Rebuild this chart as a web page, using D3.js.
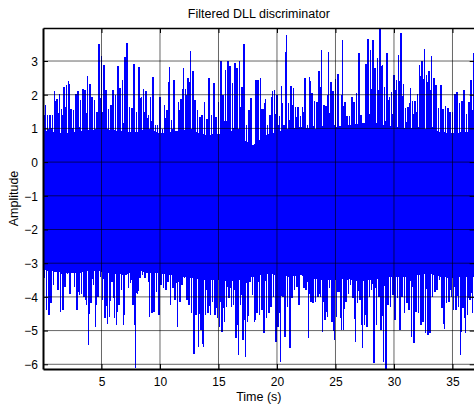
<!DOCTYPE html>
<html>
<head>
<meta charset="utf-8">
<script src="https://cdn.jsdelivr.net/npm/d3@7/dist/d3.min.js"></script>
<style>
  html, body { margin: 0; padding: 0; background: #fff; }
  svg { display: block; }
  text { font-family: "Liberation Sans", Arial, Helvetica, sans-serif; fill: #000; }
</style>
</head>
<body>
<svg id="chart" width="474" height="407"></svg>
<script>
// Filtered DLL discriminator output.
// Per 0.2 s slot: the highest and the lowest excursion of the signal.
const slotSeconds = 0.2;

const upperPeaks = [
  1.84, 1.69, 1.39, 1.41, 1.41, 2.11, 1.87, 2.01, 1.57, 2.24,
  2.29, 2.41, 1.59, 1.54, 2.01, 2.11, 1.84, 2.16, 2.14, 2.57,
  2.31, 1.94, 1.84, 1.49, 3.51, 3.14, 2.89, 2.14, 1.59, 1.69,
  2.14, 1.99, 2.84, 2.19, 2.44, 3.11, 3.54, 1.64, 1.62, 2.91,
  1.49, 2.81, 1.94, 2.17, 2.11, 1.39, 1.94, 2.54, 1.11, 1.09,
  1.92, 0.99, 1.69, 1.54, 2.81, 1.24, 2.44, 0.60, 1.77, 1.87,
  2.79, 2.16, 2.49, 3.29, 2.71, 1.84, 1.54, 1.34, 1.39, 1.79,
  1.29, 2.49, 1.39, 2.34, 1.34, 1.79, 2.99, 1.99, 2.74, 2.99,
  2.84, 2.34, 2.94, 2.79, 2.99, 2.24, 3.51, 1.09, 1.54, 1.89,
  0.44, 2.44,
  2.44, 2.49, 1.59, 1.87, 1.11, 1.41, 2.11, 2.14, 1.99, 1.37,
  2.26, 1.09, 3.77, 1.74, 2.27, 2.21, 1.64, 1.64, 1.37, 1.64,
  2.49, 1.09, 2.54, 2.04, 1.81, 1.79, 2.69, 3.34, 1.69, 1.67,
  3.27, 2.39, 2.11, 2.47, 2.61, 1.02, 3.62, 1.77, 1.37, 1.37,
  1.94, 1.77, 2.04, 3.24, 1.41, 1.09, 2.91, 3.64, 3.34, 3.61,
  2.79, 3.09, 3.98, 2.87, 2.24, 3.24, 1.94, 2.09, 2.59, 2.44,
  3.19, 3.84, 2.31, 1.61, 1.64, 2.21, 1.81, 1.81, 2.01, 2.89,
  2.99, 3.37, 2.59, 2.69, 3.14, 2.51, 2.29, 1.61, 2.29, 1.59,
  1.67, 1.61, 1.49, 1.49, 2.01, 2.07, 1.74, 1.81, 2.14, 1.44,
  1.77, 2.44, 3.24
];

const lowerPeaks = [
  -3.45, -4.39, -4.54, -4.19, -3.65, -3.23, -3.80, -4.44, -4.39, -3.70,
  -3.33, -3.90, -2.81, -3.70, -4.39, -3.93, -3.90, -4.00, -4.24, -5.43,
  -4.19, -3.65, -4.89, -4.00, -3.40, -4.09, -4.64, -4.79, -4.59, -3.55,
  -4.64, -4.84, -4.24, -3.80, -4.84, -3.35, -3.75, -3.60, -4.24, -6.12,
  -3.90, -3.45, -3.35, -3.45, -3.10, -4.59, -4.49, -4.44, -3.85, -4.54,
  -3.65, -3.75, -3.80, -3.55, -4.24, -3.75, -4.09, -4.89, -4.14, -3.65,
  -3.45, -4.09, -4.24, -4.49, -5.68, -4.54, -5.48, -4.99, -5.48, -4.54,
  -4.49, -4.54, -4.14, -4.54, -4.64, -4.89, -5.03, -4.74, -4.29, -4.04,
  -4.29, -4.24, -5.23, -5.73, -4.24, -5.28, -5.78, -4.74, -3.55, -3.95,
  -4.74, -4.49,
  -4.54, -4.39, -5.08, -4.64, -4.49, -4.29, -3.99, -5.33, -4.89, -5.93,
  -3.99, -5.18, -4.29, -5.53, -4.04, -3.80, -3.70, -4.24, -3.35, -3.75,
  -3.80, -5.23, -4.14, -4.19, -4.14, -3.99, -3.99, -5.03, -4.69, -4.59,
  -3.75, -4.74, -5.28, -4.59, -3.85, -4.99, -4.99, -4.14, -3.90, -3.65,
  -4.04, -5.33, -4.19, -4.09, -5.53, -4.84, -4.89, -3.99, -3.80, -5.97,
  -4.84, -3.99, -4.99, -5.93, -6.13, -4.24, -4.29, -3.95, -4.69, -4.04,
  -4.99, -3.99, -4.49, -4.19, -4.39, -5.18, -5.38, -4.44, -4.49, -4.84,
  -4.74, -5.08, -5.13, -5.08, -3.99, -3.85, -3.80, -3.50, -4.34, -4.94,
  -4.19, -4.14, -3.99, -4.39, -4.39, -4.29, -5.73, -4.34, -5.08, -4.54,
  -4.09, -4.49, -4.49
];

// Per 1 s: edges of the densely filled band that the samples never leave.
const bandSeconds = 1;
const bandTop = [
  0.95, 0.90, 0.85, 0.90, 0.95, 1.00, 0.95, 0.90, 0.90, 1.00,
  0.85, 0.90, 0.95, 0.90, 0.80, 0.85, 0.75, 0.70, 0.50, 0.80,
  0.90, 1.00, 1.05, 1.00, 0.95, 1.05, 1.10, 1.15, 1.20, 1.10,
  1.05, 1.00, 1.05, 0.95, 0.90, 0.85, 0.90, 0.90
];
const bandBottom = [
  -3.20, -3.25, -3.30, -3.30, -3.20, -3.25, -3.30, -3.35, -3.20, -3.30,
  -3.30, -3.35, -3.40, -3.45, -3.50, -3.50, -3.55, -3.50, -3.40, -3.30,
  -3.35, -3.40, -3.35, -3.45, -3.50, -3.50, -3.45, -3.55, -3.50, -3.45,
  -3.40, -3.40, -3.35, -3.30, -3.40, -3.45, -3.40, -3.40
];

const xTickValues = [5, 10, 15, 20, 25, 30, 35];
const yTickValues = [-6, -5, -4, -3, -2, -1, 0, 1, 2, 3];

const titleText = "Filtered DLL discriminator";
const xLabelText = "Time (s)";
const yLabelText = "Amplitude";

// ---- layout ----
const svg = d3.select("#chart");
const plot = { left: 43, right: 474.7, top: 28, bottom: 369 };

const x = d3.scaleLinear().domain([0, 36.9]).range([plot.left, plot.right]);
const y = d3.scaleLinear().domain([-6.14, 3.98]).range([plot.bottom, plot.top]);

svg.append("clipPath").attr("id", "plot-clip")
  .append("rect")
  .attr("x", plot.left).attr("y", plot.top)
  .attr("width", plot.right - plot.left).attr("height", plot.bottom - plot.top);

// Pixel-sharp trace, like a screen plot of a long record
const traceLayer = svg.append("g")
  .attr("clip-path", "url(#plot-clip)")
  .attr("shape-rendering", "crispEdges");

// Dense band
const band = bandTop.map((top, i) => ({ t: i * bandSeconds, top, bottom: bandBottom[i] }));
traceLayer.append("path")
  .datum(band)
  .attr("d", d3.area().x(d => x(d.t)).y0(d => y(d.bottom)).y1(d => y(d.top)))
  .attr("fill", "#0000ff");

// Signal: alternate each slot's high and low excursion.
const signal = [];
upperPeaks.forEach((hi, i) => {
  signal.push({ t: i * slotSeconds, v: hi });
  signal.push({ t: i * slotSeconds + slotSeconds / 2, v: lowerPeaks[i] });
});

traceLayer.append("path")
  .datum(signal)
  .attr("d", d3.line().x(d => x(d.t)).y(d => y(d.v)))
  .attr("fill", "none")
  .attr("stroke", "#0000ff")
  .attr("stroke-width", 1.5)
  .attr("stroke-linejoin", "bevel");

// Grid on top of the trace
const grid = svg.append("g").attr("stroke", "#000").attr("stroke-opacity", 0.6).attr("stroke-width", 1);
grid.selectAll(".gx").data(xTickValues).join("line")
  .attr("x1", d => x(d)).attr("x2", d => x(d))
  .attr("y1", plot.top).attr("y2", plot.bottom);
grid.selectAll(".gy").data(yTickValues).join("line")
  .attr("x1", plot.left).attr("x2", plot.right)
  .attr("y1", d => y(d)).attr("y2", d => y(d));

// Axes with inward ticks
const tickFont = 12;
const yAxis = svg.append("g").attr("transform", `translate(${plot.left},0)`)
  .call(d3.axisLeft(y).tickValues(yTickValues).tickFormat(d3.format("d"))
    .tickSize(-5).tickSizeOuter(0).tickPadding(5));
const xAxis = svg.append("g").attr("transform", `translate(0,${plot.bottom})`)
  .call(d3.axisBottom(x).tickValues(xTickValues).tickFormat(d3.format("d"))
    .tickSize(-5).tickSizeOuter(0).tickPadding(8));
const topAxis = svg.append("g").attr("transform", `translate(0,${plot.top})`)
  .call(d3.axisTop(x).tickValues(xTickValues).tickFormat("").tickSize(-5).tickSizeOuter(0));
const rightAxis = svg.append("g").attr("transform", `translate(${plot.right},0)`)
  .call(d3.axisRight(y).tickValues(yTickValues).tickFormat("").tickSize(-5).tickSizeOuter(0));

[yAxis, xAxis, topAxis, rightAxis].forEach(g => {
  g.selectAll("text")
    .attr("font-family", "Liberation Sans, Arial, sans-serif")
    .attr("font-size", tickFont)
    .attr("fill", "#000");
  g.selectAll(".tick line").attr("stroke", "#000");
  g.select(".domain").attr("stroke", "#000").attr("stroke-width", 2);
});
yAxis.selectAll("text").attr("dy", "0.36em");
xAxis.selectAll("text").attr("dy", "0.71em");
topAxis.select(".domain").attr("stroke-width", 1.5);

// Titles
svg.append("text")
  .attr("x", (plot.left + plot.right) / 2).attr("y", 18)
  .attr("text-anchor", "middle").attr("font-size", 12.5)
  .text(titleText);

svg.append("text")
  .attr("x", (plot.left + plot.right) / 2).attr("y", 401)
  .attr("text-anchor", "middle").attr("font-size", 12.5)
  .text(xLabelText);

svg.append("text")
  .attr("transform", `translate(18,${(plot.top + plot.bottom) / 2}) rotate(-90)`)
  .attr("text-anchor", "middle").attr("font-size", 12.5)
  .text(yLabelText);
</script>
</body>
</html>
